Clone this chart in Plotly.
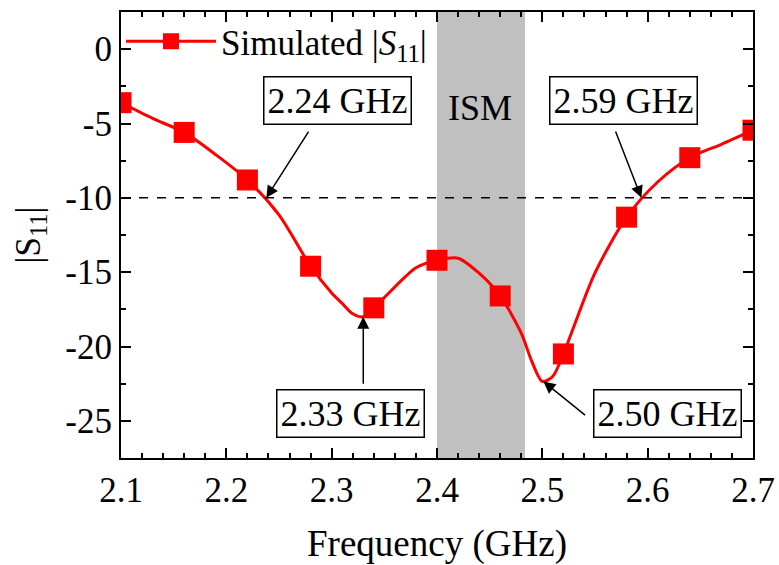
import plotly.graph_objects as go

# Marker samples of simulated |S11|
marker_freq = [2.10, 2.16, 2.22, 2.28, 2.34, 2.40, 2.46, 2.52, 2.58, 2.64, 2.70]
marker_s11 = [-3.6, -5.6, -8.8, -14.6, -17.4, -14.2, -16.6, -20.5, -11.3, -7.3, -5.45]

# Dense simulated curve
curve_freq = [2.10, 2.13, 2.16, 2.19, 2.22, 2.25, 2.28, 2.30, 2.31, 2.32, 2.33, 2.34,
              2.37, 2.38, 2.40, 2.42, 2.44, 2.46, 2.48, 2.49, 2.50, 2.51, 2.52, 2.53,
              2.55, 2.58, 2.61, 2.64, 2.67, 2.70]
curve_s11 = [-3.6, -4.66, -5.6, -7.1, -8.8, -11.15, -14.6, -16.4, -17.1, -17.8, -18.0, -17.4,
             -15.3, -14.7, -14.2, -14.06, -15.07, -16.6, -19.1, -21.0, -22.35, -22.0, -20.5, -18.65,
             -15.05, -11.3, -8.9, -7.3, -6.4, -5.45]

x_tick_vals = [2.1, 2.2, 2.3, 2.4, 2.5, 2.6, 2.7]
x_tick_text = ["2.1", "2.2", "2.3", "2.4", "2.5", "2.6", "2.7"]
y_tick_vals = [0, -5, -10, -15, -20, -25]
y_tick_text = ["0", "-5", "-10", "-15", "-20", "-25"]

ism_band = [2.40, 2.4835]
threshold = -10

# annotations: (label, box_x, box_y, tail_x, tail_y, tip_x, tip_y)
notes = [
    ("2.24 GHz", 2.306, -3.45, 2.279, -5.44, 2.238, -10.0),
    ("2.59 GHz", 2.577, -3.43, 2.569, -5.44, 2.594, -10.0),
    ("2.33 GHz", 2.318, -24.52, 2.330, -22.6, 2.330, -18.0),
    ("2.50 GHz", 2.619, -24.52, 2.542, -24.7, 2.501, -22.35),
]

FONT = "Liberation Serif, Tinos, serif"
RED = "#ff0000"

fig = go.Figure()

fig.add_trace(go.Scatter(
    x=curve_freq, y=curve_s11, mode="lines",
    line=dict(color=RED, width=3, shape="spline", smoothing=0.8),
    showlegend=False, hoverinfo="skip"))

fig.add_trace(go.Scatter(
    x=marker_freq, y=marker_s11, mode="markers",
    marker=dict(symbol="square", size=21, color=RED),
    name="Simulated |<i>S</i><sub>11</sub>|", showlegend=False))

# legend entry
fig.add_trace(go.Scatter(
    x=[None], y=[None], mode="lines+markers",
    line=dict(color=RED, width=3),
    marker=dict(symbol="square", size=21, color=RED),
    name="Simulated |<i>S</i><sub>11</sub>|", showlegend=True))

fig.add_shape(type="rect", xref="x", yref="paper", x0=ism_band[0], x1=ism_band[1],
              y0=0, y1=1, fillcolor="#c0c0c0", line=dict(width=0), layer="below")
fig.add_shape(type="line", xref="paper", yref="y", x0=0, x1=1, y0=threshold, y1=threshold,
              line=dict(color="black", width=1.5, dash="dash"))

fig.add_annotation(x=2.441, y=-3.97, text="ISM", showarrow=False,
                   font=dict(family=FONT, size=36, color="black"))

for label, bx, by, tx, ty, hx, hy in notes:
    fig.add_annotation(x=hx, y=hy, ax=tx, ay=ty, axref="x", ayref="y", text="",
                       showarrow=True, arrowhead=2, arrowsize=1.6, arrowwidth=1.5,
                       arrowcolor="black")
    fig.add_annotation(x=bx, y=by, text=label, showarrow=False,
                       font=dict(family=FONT, size=36, color="black"),
                       bordercolor="black", borderwidth=1.5, borderpad=3, bgcolor="white")

axis_common = dict(showline=True, linecolor="black", linewidth=2, mirror="allticks",
                   ticks="inside", ticklen=10, tickwidth=1.5, tickcolor="black",
                   showgrid=False, zeroline=False, automargin=False,
                   tickfont=dict(family=FONT, size=35, color="black"))

fig.update_xaxes(range=[2.1, 2.7], tickmode="array", tickvals=x_tick_vals, ticktext=x_tick_text,
                 minor=dict(ticks="inside", ticklen=5, dtick=0.02, tick0=2.1,
                            tickwidth=1.5, tickcolor="black"),
                 title=dict(text="Frequency (GHz)", font=dict(family=FONT, size=37, color="black"),
                            standoff=22),
                 **axis_common)
fig.update_yaxes(range=[-27.5, 2.5], tickmode="array", tickvals=y_tick_vals, ticktext=y_tick_text,
                 minor=dict(ticks="inside", ticklen=5, dtick=2.5, tick0=0,
                            tickwidth=1.5, tickcolor="black"),
                 title=dict(text="|S<sub>11</sub>|", font=dict(family=FONT, size=35, color="black"),
                            standoff=14),
                 **axis_common)

fig.update_layout(
    width=779, height=565, autosize=False,
    font=dict(family=FONT, color="black"),
    margin=dict(l=121, r=26, t=12, b=107),
    plot_bgcolor="white", paper_bgcolor="white",
    legend=dict(x=0.0, y=1.0, xanchor="left", yanchor="top", bgcolor="rgba(0,0,0,0)",
                font=dict(family=FONT, size=35, color="black"), itemwidth=90,
                borderwidth=0),
)

fig.write_html(
    "out.html",
    config={"displayModeBar": False},
    post_script=("document.body.style.margin='0';"
                 "document.fonts.ready.then(function(){Plotly.redraw('{plot_id}');});"),
)
